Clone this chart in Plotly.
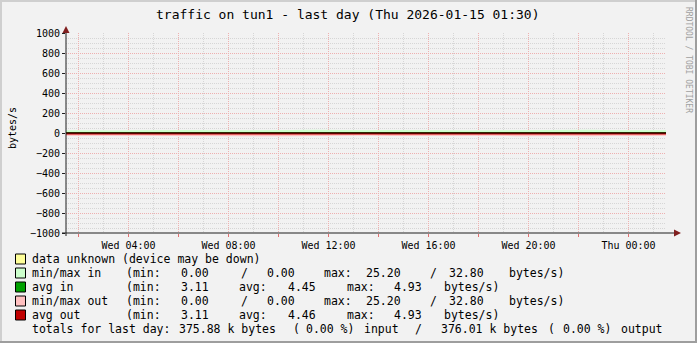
import plotly.graph_objects as go

# ---------------- data ----------------
times = ["2026-01-14 01:30", "2026-01-14 02:30", "2026-01-14 03:30", "2026-01-14 04:30",
         "2026-01-14 05:30", "2026-01-14 06:30", "2026-01-14 07:30", "2026-01-14 08:30",
         "2026-01-14 09:30", "2026-01-14 10:30", "2026-01-14 11:30", "2026-01-14 12:30",
         "2026-01-14 13:30", "2026-01-14 14:30", "2026-01-14 15:30", "2026-01-14 16:30",
         "2026-01-14 17:30", "2026-01-14 18:30", "2026-01-14 19:30", "2026-01-14 20:30",
         "2026-01-14 21:30", "2026-01-14 22:30", "2026-01-14 23:30", "2026-01-15 00:30",
         "2026-01-15 01:30"]
min_in = [0.00, 0.00, 0.00, 0.00, 0.00, 0.00, 0.00, 0.00, 0.00, 0.00, 0.00, 0.00, 0.00,
          0.00, 0.00, 0.00, 0.00, 0.00, 0.00, 0.00, 0.00, 0.00, 0.00, 0.00, 0.00]
max_in = [28.4, 25.2, 26.1, 27.3, 29.8, 31.2, 26.7, 25.9, 28.8, 30.4, 32.8, 27.5, 26.3,
          29.1, 31.6, 28.2, 25.7, 27.9, 30.1, 26.8, 29.4, 32.1, 27.0, 28.6, 26.4]
avg_in = [4.12, 3.11, 4.35, 4.61, 4.88, 4.27, 3.96, 4.52, 4.73, 4.93, 4.41, 4.18, 4.66,
          4.84, 4.30, 3.87, 4.59, 4.77, 4.45, 4.22, 4.69, 4.90, 4.38, 4.55, 4.47]
min_out = [0.00, 0.00, 0.00, 0.00, 0.00, 0.00, 0.00, 0.00, 0.00, 0.00, 0.00, 0.00, 0.00,
           0.00, 0.00, 0.00, 0.00, 0.00, 0.00, 0.00, 0.00, 0.00, 0.00, 0.00, 0.00]
max_out = [27.9, 26.0, 25.2, 28.1, 30.6, 29.7, 27.2, 26.5, 31.4, 32.8, 28.3, 26.9, 25.8,
           30.2, 29.0, 27.6, 26.2, 28.7, 31.9, 27.4, 28.9, 32.3, 26.6, 29.5, 27.1]
avg_out = [4.20, 3.11, 4.29, 4.66, 4.81, 4.33, 3.99, 4.57, 4.70, 4.93, 4.44, 4.21, 4.62,
           4.86, 4.35, 3.90, 4.55, 4.79, 4.48, 4.25, 4.72, 4.88, 4.41, 4.58, 4.50]

x_range = ["2026-01-14 01:30", "2026-01-15 01:30"]
x_major = ["2026-01-14 02:00", "2026-01-14 04:00", "2026-01-14 06:00", "2026-01-14 08:00",
           "2026-01-14 10:00", "2026-01-14 12:00", "2026-01-14 14:00", "2026-01-14 16:00",
           "2026-01-14 18:00", "2026-01-14 20:00", "2026-01-14 22:00", "2026-01-15 00:00"]
x_labels = ["", "Wed 04:00", "", "Wed 08:00", "", "Wed 12:00", "", "Wed 16:00", "",
            "Wed 20:00", "", "Thu 00:00"]
x_minor = ["2026-01-14 03:00", "2026-01-14 05:00", "2026-01-14 07:00", "2026-01-14 09:00",
           "2026-01-14 11:00", "2026-01-14 13:00", "2026-01-14 15:00", "2026-01-14 17:00",
           "2026-01-14 19:00", "2026-01-14 21:00", "2026-01-14 23:00", "2026-01-15 01:00"]
y_ticks = [1000, 800, 600, 400, 200, 0, -200, -400, -600, -800, -1000]
y_minor = [950, 900, 850, 750, 700, 650, 550, 500, 450, 350, 300, 250, 150, 100, 50,
           -50, -100, -150, -250, -300, -350, -450, -500, -550, -650, -700, -750,
           -850, -900, -950]

title_text = "traffic on tun1 - last day (Thu 2026-01-15 01:30)"
y_title = "bytes/s"
side_text = "RRDTOOL / TOBI OETIKER"

legend_rows = [
    ("#ffff99", [("data unknown (device may be down)", 30.7)]),
    ("#ccffcc", [("min/max in", 30.7), ("(min:", 125), ("0.00", 180), ("/", 240), ("0.00", 265.7),
                 ("max:", 323), ("25.20", 365), ("/", 429), ("32.80", 448.3), ("bytes/s)", 508.3)]),
    ("#00a000", [("avg in", 30.7), ("(min:", 125), ("3.11", 180), ("avg:", 237.7), ("4.45", 286.7),
                 ("max:", 346), ("4.93", 393.3), ("bytes/s)", 443.3)]),
    ("#ffc0c0", [("min/max out", 30.7), ("(min:", 125), ("0.00", 180), ("/", 240), ("0.00", 265.7),
                 ("max:", 323), ("25.20", 365), ("/", 429), ("32.80", 448.3), ("bytes/s)", 508.3)]),
    ("#c00000", [("avg out", 30.7), ("(min:", 125), ("3.11", 180), ("avg:", 237.7), ("4.46", 286.7),
                 ("max:", 346), ("4.93", 393.3), ("bytes/s)", 443.3)]),
    (None, [("totals for last day:", 30.7), ("375.88 k bytes", 178.3), ("(", 291.7),
            ("0.00 %)", 305), ("input", 363.3), ("/", 413.5), ("376.01 k bytes", 440),
            ("(", 547), ("0.00 %)", 562), ("output", 620)]),
]
legend_y = [259, 273, 287, 301, 315, 329]

# ---------------- geometry ----------------
W, H = 697, 343
L, R, T, B = 66, 666, 33, 233
MONO = "DejaVu Sans Mono"
BG = "#f2f2f2"
GRID_MINOR = "#d6d6d6"
GRID_MAJOR = "#eeb0b0"


def px(x):
    return (x - L) / (R - L)


def py(y):
    return (B - y) / (B - T)


fig = go.Figure()
fig.add_trace(go.Scatter(x=times, y=min_in, mode="lines", line=dict(width=0), showlegend=False,
                         hoverinfo="skip"))
fig.add_trace(go.Scatter(x=times, y=max_in, mode="lines", line=dict(width=0), fill="tonexty",
                         fillcolor="#ccffcc", showlegend=False, hoverinfo="skip"))
fig.add_trace(go.Scatter(x=times, y=[-v for v in min_out], mode="lines", line=dict(width=0),
                         showlegend=False, hoverinfo="skip"))
fig.add_trace(go.Scatter(x=times, y=[-v for v in max_out], mode="lines", line=dict(width=0),
                         fill="tonexty", fillcolor="#ffc0c0", showlegend=False, hoverinfo="skip"))
fig.add_trace(go.Scatter(x=times, y=avg_in, mode="lines", line=dict(width=1, color="#00a000"),
                         showlegend=False, hoverinfo="skip"))
fig.add_trace(go.Scatter(x=times, y=[-v for v in avg_out], mode="lines",
                         line=dict(width=2, color="#c00000"), showlegend=False, hoverinfo="skip"))

shapes = []
# zero rule
shapes.append(dict(type="line", xref="paper", yref="y", x0=0, x1=1, y0=0, y1=0,
                   line=dict(color="#000000", width=1)))
# axis extensions and arrows
shapes.append(dict(type="line", xref="paper", yref="paper", x0=px(62), x1=px(677), y0=0, y1=0,
                   line=dict(color="#1f1f1f", width=1)))
shapes.append(dict(type="line", xref="paper", yref="paper", x0=0, x1=0, y0=py(236), y1=py(29),
                   line=dict(color="#1f1f1f", width=1)))
shapes.append(dict(type="path", xref="paper", yref="paper",
                   path=f"M {px(62.5)} {py(33)} L {px(69.5)} {py(33)} L {px(66)} {py(26)} Z",
                   fillcolor="#801f1f", line=dict(width=0)))
shapes.append(dict(type="path", xref="paper", yref="paper",
                   path=f"M {px(674)} {py(229.5)} L {px(674)} {py(236.5)} L {px(681)} {py(233)} Z",
                   fillcolor="#801f1f", line=dict(width=0)))
# frame
shapes.append(dict(type="rect", xref="paper", yref="paper", x0=px(0), x1=px(W), y0=py(0), y1=py(2),
                   fillcolor="#cfcfcf", line=dict(width=0)))
shapes.append(dict(type="rect", xref="paper", yref="paper", x0=px(0), x1=px(2), y0=py(0), y1=py(H),
                   fillcolor="#cfcfcf", line=dict(width=0)))
shapes.append(dict(type="rect", xref="paper", yref="paper", x0=px(0), x1=px(W), y0=py(H - 2), y1=py(H),
                   fillcolor="#9e9e9e", line=dict(width=0)))
shapes.append(dict(type="rect", xref="paper", yref="paper", x0=px(W - 2), x1=px(W), y0=py(0), y1=py(H),
                   fillcolor="#9e9e9e", line=dict(width=0)))

annotations = []
annotations.append(dict(text=title_text, xref="paper", yref="paper", x=px(347.5), y=py(14),
                        xanchor="center", yanchor="middle", showarrow=False,
                        font=dict(family=MONO, size=13, color="#000")))
annotations.append(dict(text=y_title, xref="paper", yref="paper", x=px(12), y=py(128),
                        xanchor="center", yanchor="middle", showarrow=False, textangle=-90,
                        font=dict(family=MONO, size=10, color="#000")))
annotations.append(dict(text=side_text, xref="paper", yref="paper", x=px(689), y=py(60),
                        xanchor="center", yanchor="middle", showarrow=False, textangle=90,
                        font=dict(family=MONO, size=8, color="#a0a0a0")))

for (color, tokens), yc in zip(legend_rows, legend_y):
    if color:
        shapes.append(dict(type="rect", xref="paper", yref="paper", x0=px(15.5), x1=px(25.5),
                           y0=py(yc - 5), y1=py(yc + 5), fillcolor=color,
                           line=dict(color="#000000", width=1)))
    for txt, xl in tokens:
        annotations.append(dict(text=txt.replace(" ", "\u00a0"), xref="paper", yref="paper",
                                x=px(xl - 1), y=py(yc), xanchor="left", yanchor="middle",
                                showarrow=False, font=dict(family=MONO, size=11.5, color="#000")))

fig.update_layout(
    width=W, height=H,
    margin=dict(l=L, r=W - R, t=T, b=H - B, pad=0),
    paper_bgcolor=BG, plot_bgcolor=BG,
    showlegend=False,
    shapes=shapes, annotations=annotations,
    xaxis=dict(type="date", range=x_range, tickmode="array", tickvals=x_major, ticktext=x_labels,
               ticks="outside", ticklen=3, tickcolor="#e07070", tickwidth=1,
               showgrid=True, gridcolor=GRID_MAJOR, griddash="1px,1px", gridwidth=1,
               minor=dict(tickmode="array", tickvals=x_minor, showgrid=True,
                          gridcolor=GRID_MINOR, griddash="1px,1px", ticks=""),
               showline=False, zeroline=False,
               tickfont=dict(family=MONO, size=10, color="#000"), fixedrange=True),
    yaxis=dict(range=[-1000, 1000], tickmode="array", tickvals=y_ticks, ticks="outside", ticklen=3,
               tickcolor="#1f1f1f", showgrid=True, gridcolor=GRID_MAJOR, griddash="1px,1px",
               minor=dict(tickmode="array", tickvals=y_minor, showgrid=True, gridcolor=GRID_MINOR,
                          griddash="1px,1px", ticks=""),
               showline=False, zeroline=False,
               tickfont=dict(family=MONO, size=10, color="#000"), fixedrange=True),
)

fig.write_html("out.html")
